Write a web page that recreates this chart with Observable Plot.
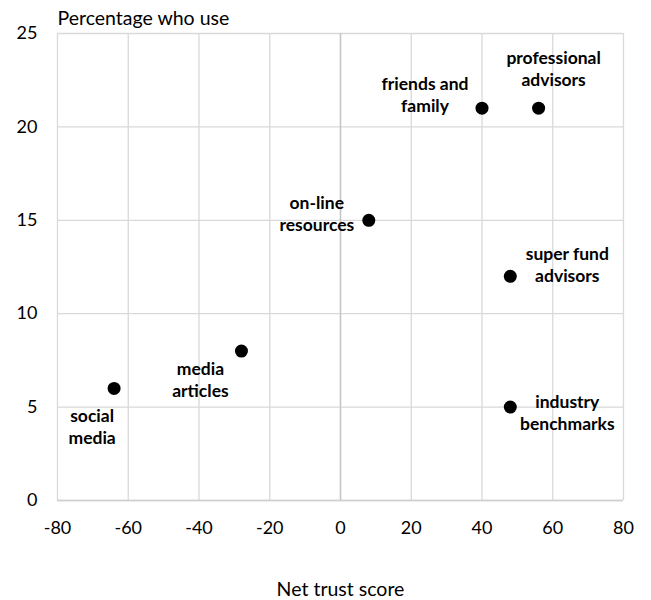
<!DOCTYPE html>
<html>
<head>
<meta charset="utf-8">
<script src="https://cdn.jsdelivr.net/npm/d3@7"></script>
<script src="https://cdn.jsdelivr.net/npm/@observablehq/plot@0.6"></script>
<style>
  html, body { margin: 0; padding: 0; background: #fff; }
  #chart { width: 651px; height: 600px; }
</style>
</head>
<body>
<div id="chart"></div>
<script>
// ---- data ----
const sources = ["social media", "media articles", "on-line resources", "friends and family", "professional advisors", "super fund advisors", "industry benchmarks"];
const labelText = ["social\nmedia", "media\narticles", "on-line\nresources", "friends and\nfamily", "professional\nadvisors", "super fund\nadvisors", "industry\nbenchmarks"];
const netTrust = [-64, -28, 8, 40, 56, 48, 48];
const pctUse = [6, 8, 15, 21, 21, 12, 5];
const xTicks = [-80, -60, -40, -20, 0, 20, 40, 60, 80];
const yTicks = [0, 5, 10, 15, 20, 25];
const xTitle = "Net trust score";
const yTitle = "Percentage who use";

// ---- label placement (styling, relative offsets in px) ----
const labelOffset = [
  {dx: -22, dy: 38},
  {dx: -41, dy: 28},
  {dx: -52, dy: -7},
  {dx: -57, dy: -14},
  {dx: 15, dy: -40},
  {dx: 57, dy: -12},
  {dx: 57, dy: 5}
];

const data = sources.map((s, i) => ({name: s, label: labelText[i], x: netTrust[i], y: pctUse[i]}));

const font = "Lato, 'Open Sans', sans-serif";
const gridColor = "#d9d9d9";
const plain = d => String(d);

const labelMarks = data.map((d, i) => Plot.text([d], {
  x: "x", y: "y", text: "label",
  dx: labelOffset[i].dx, dy: labelOffset[i].dy,
  fontWeight: "bold", fontSize: 17.5, lineHeight: 1.25,
  textAnchor: "middle", lineAnchor: "middle", fill: "#000"
}));

const chart = Plot.plot({
  width: 651,
  height: 600,
  marginLeft: 57,
  marginRight: 28,
  marginTop: 33,
  marginBottom: 100,
  style: {fontFamily: font, fontSize: "18px", color: "#000", background: "#fff", overflow: "visible"},
  x: {domain: [-80, 80], ticks: xTicks},
  y: {domain: [0, 25], ticks: yTicks},
  marks: [
    Plot.gridX(xTicks, {stroke: gridColor, strokeOpacity: 1, strokeWidth: 1.3}),
    Plot.gridY(yTicks, {stroke: gridColor, strokeOpacity: 1, strokeWidth: 1.3}),
    Plot.ruleX([0], {stroke: "#c4c4c4", strokeWidth: 1.4}),
    Plot.ruleY([0], {stroke: "#cfcfcf", strokeWidth: 1.5}),
    Plot.axisX(xTicks, {tickSize: 0, tickPadding: 21, label: null, fontSize: 18, tickFormat: plain}),
    Plot.axisY(yTicks, {tickSize: 0, tickPadding: 20, label: null, fontSize: 18, tickFormat: plain}),
    Plot.dot(data, {x: "x", y: "y", r: 6.5, fill: "#000", stroke: "none"}),
    ...labelMarks,
    Plot.text([yTitle], {frameAnchor: "top-left", text: d => d, textAnchor: "start", lineAnchor: "bottom", dy: -9, fontSize: 19.5}),
    Plot.text([xTitle], {frameAnchor: "bottom", text: d => d, textAnchor: "middle", lineAnchor: "bottom", dy: 95, fontSize: 19.5})
  ]
});

document.getElementById("chart").appendChild(chart);
</script>
</body>
</html>
